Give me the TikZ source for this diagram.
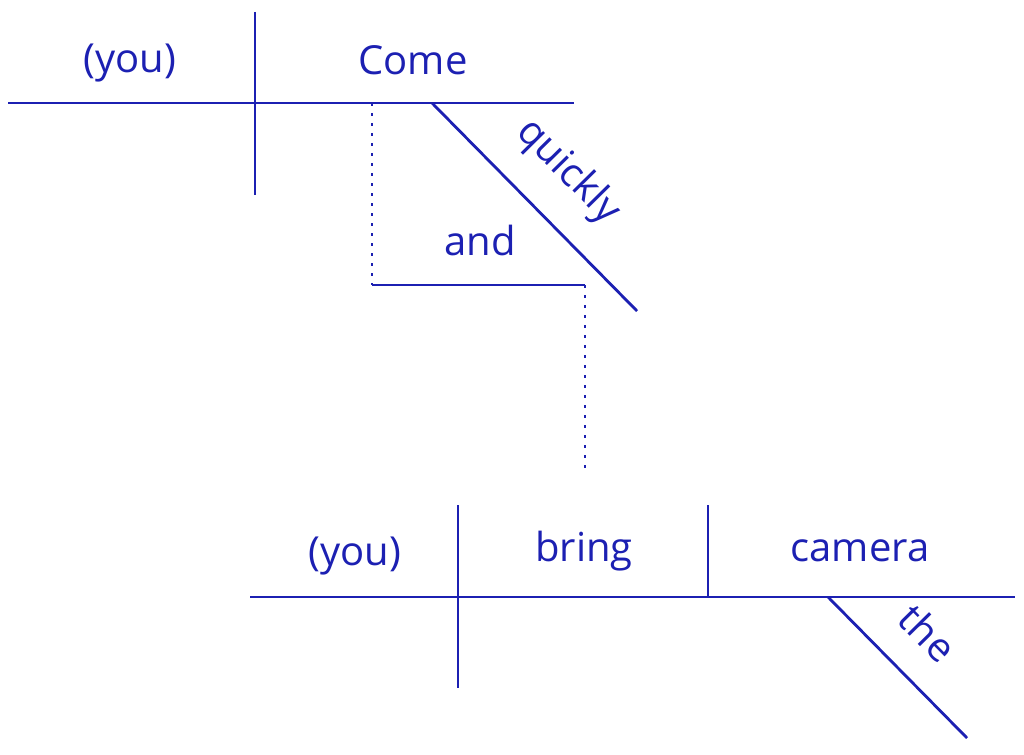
\documentclass[tikz,border=0pt]{standalone}
\usepackage{fontspec}
\setmainfont{Open Sans}
\definecolor{ink}{RGB}{28,32,178}
\begin{document}
\begin{tikzpicture}[x=1pt,y=-1pt,line width=2.8pt,ink,
  word/.style={font=\fontsize{40}{44}\selectfont,text=ink,inner sep=0pt},
  dots/.style={dash pattern=on 3pt off 7pt,line width=2.8pt}]
\useasboundingbox (0,0) rectangle (1024,754);
\coordinate (a1) at (8,103); \coordinate (a2) at (574,103);
\coordinate (v1) at (255,12); \coordinate (v2) at (255,195);
\coordinate (q1) at (432,103); \coordinate (q2) at (637,311);
\coordinate (d1) at (372,103); \coordinate (d2) at (372,285);
\coordinate (n2) at (585,285); \coordinate (e2) at (585,470);
\coordinate (b1) at (250,597); \coordinate (b2) at (1015,597);
\coordinate (w1) at (458,505); \coordinate (w2) at (458,688);
\coordinate (o1) at (708,505); \coordinate (o2) at (708,597);
\coordinate (t1) at (828,597); \coordinate (t2) at (967,738);
\draw (a1) -- (a2); \draw (v1) -- (v2); \draw (q1) -- (q2);
\draw[dots] (d1) -- (d2); \draw (d2) -- (n2); \draw[dots] (n2) -- (e2);
\draw (b1) -- (b2); \draw (w1) -- (w2); \draw (o1) -- (o2); \draw (t1) -- (t2);
\node[word] (you1) at (130,63) {(you)};
\node[word] (come) at (413,60) {Come};
\node[word,rotate=-45.4] (quickly) at (568,172) {quickly};
\node[word] (and) at (480,240) {and};
\node[word] (you2) at (355,556) {(you)};
\node[word] (bring) at (584,551) {bring};
\node[word] (camera) at (860,551) {camera};
\node[word,rotate=-45.4] (the) at (928,633) {the};
\end{tikzpicture}
\end{document}
